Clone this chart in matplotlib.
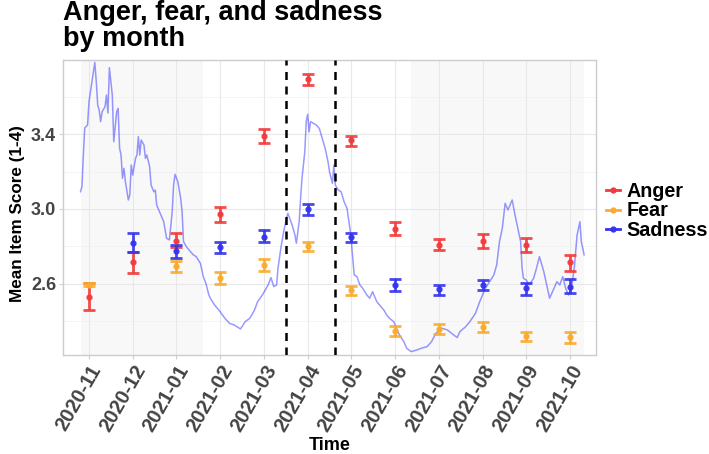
import numpy as np
import pandas as pd
import matplotlib
matplotlib.use("Agg")
import matplotlib.pyplot as plt
from matplotlib.lines import Line2D

plt.rcParams['font.family'] = ['Liberation Sans', 'DejaVu Sans']

# ---------------- data ----------------
months = ['2020-11', '2020-12', '2021-01', '2021-02', '2021-03', '2021-04',
          '2021-05', '2021-06', '2021-07', '2021-08', '2021-09', '2021-10']

anger_mean = [2.531, 2.717, 2.829, 2.973, 3.389, 3.693, 3.368, 2.893, 2.808, 2.829, 2.808, 2.717]
anger_lo   = [2.461, 2.659, 2.797, 2.931, 3.352, 3.661, 3.336, 2.861, 2.781, 2.792, 2.771, 2.669]
anger_hi   = [2.605, 2.771, 2.872, 3.011, 3.427, 3.720, 3.389, 2.931, 2.840, 2.867, 2.845, 2.755]

fear_mean = [2.597, np.nan, 2.696, 2.632, 2.701, 2.803, 2.568, 2.349, 2.360, 2.371, 2.323, 2.317]
fear_lo   = [2.589, np.nan, 2.664, 2.600, 2.669, 2.776, 2.541, 2.323, 2.333, 2.344, 2.296, 2.285]
fear_hi   = [2.605, np.nan, 2.723, 2.664, 2.733, 2.824, 2.589, 2.376, 2.387, 2.397, 2.344, 2.344]

sad_mean = [np.nan, 2.819, 2.776, 2.797, 2.851, 3.000, 2.851, 2.595, 2.573, 2.595, 2.579, 2.584]
sad_lo   = [np.nan, 2.771, 2.739, 2.765, 2.824, 2.968, 2.824, 2.563, 2.541, 2.568, 2.541, 2.552]
sad_hi   = [np.nan, 2.872, 2.808, 2.824, 2.888, 3.027, 2.872, 2.627, 2.595, 2.621, 2.605, 2.627]

line_dates = [
    '2020-10-26', '2020-10-27', '2020-10-28', '2020-10-29', '2020-10-31', '2020-11-01',
    '2020-11-03', '2020-11-05', '2020-11-06', '2020-11-07', '2020-11-08', '2020-11-09',
    '2020-11-10', '2020-11-12', '2020-11-13', '2020-11-14', '2020-11-15', '2020-11-16',
    '2020-11-17', '2020-11-18', '2020-11-20', '2020-11-21', '2020-11-22', '2020-11-23',
    '2020-11-24', '2020-11-25', '2020-11-26', '2020-11-28', '2020-11-29', '2020-11-30',
    '2020-12-01', '2020-12-03', '2020-12-04', '2020-12-05', '2020-12-06', '2020-12-07',
    '2020-12-09', '2020-12-10', '2020-12-11', '2020-12-13', '2020-12-14', '2020-12-16',
    '2020-12-17', '2020-12-18', '2020-12-20', '2020-12-23', '2020-12-25', '2020-12-27',
    '2020-12-29', '2020-12-30', '2020-12-31', '2021-01-02', '2021-01-04', '2021-01-05',
    '2021-01-06', '2021-01-08', '2021-01-11', '2021-01-13', '2021-01-15', '2021-01-18',
    '2021-01-20', '2021-01-22', '2021-01-24', '2021-01-25', '2021-01-28', '2021-02-01',
    '2021-02-04', '2021-02-07', '2021-02-10', '2021-02-14', '2021-02-17', '2021-02-20',
    '2021-02-23', '2021-02-25', '2021-02-28', '2021-03-02', '2021-03-04', '2021-03-06',
    '2021-03-08', '2021-03-10', '2021-03-11', '2021-03-13', '2021-03-15', '2021-03-17',
    '2021-03-18', '2021-03-21', '2021-03-23', '2021-03-24', '2021-03-26', '2021-03-27',
    '2021-03-28', '2021-03-30', '2021-03-31', '2021-04-01', '2021-04-02', '2021-04-03',
    '2021-04-05', '2021-04-07', '2021-04-09', '2021-04-11', '2021-04-13', '2021-04-15',
    '2021-04-16', '2021-04-18', '2021-04-19', '2021-04-20', '2021-04-22', '2021-04-24',
    '2021-04-26', '2021-04-28', '2021-04-30', '2021-05-01', '2021-05-03', '2021-05-05',
    '2021-05-07', '2021-05-09', '2021-05-12', '2021-05-14', '2021-05-16', '2021-05-19',
    '2021-05-21', '2021-05-24', '2021-05-26', '2021-05-28', '2021-05-31', '2021-06-02',
    '2021-06-04', '2021-06-07', '2021-06-09', '2021-06-12', '2021-06-16', '2021-06-19',
    '2021-06-23', '2021-06-26', '2021-06-29', '2021-07-03', '2021-07-07', '2021-07-10',
    '2021-07-14', '2021-07-16', '2021-07-20', '2021-07-23', '2021-07-27', '2021-07-30',
    '2021-08-03', '2021-08-06', '2021-08-09', '2021-08-11', '2021-08-13', '2021-08-15',
    '2021-08-17', '2021-08-19', '2021-08-22', '2021-08-24', '2021-08-26', '2021-08-28',
    '2021-08-29', '2021-08-30', '2021-09-01', '2021-09-03', '2021-09-06', '2021-09-08',
    '2021-09-10', '2021-09-13', '2021-09-15', '2021-09-17', '2021-09-20', '2021-09-22',
    '2021-09-24', '2021-09-26', '2021-09-28', '2021-09-30', '2021-10-02', '2021-10-04',
    '2021-10-06', '2021-10-08', '2021-10-09', '2021-10-10', '2021-10-11']
line_values = [
    3.092, 3.119, 3.288, 3.432, 3.448, 3.572,
    3.679, 3.782, 3.679, 3.555, 3.528, 3.466,
    3.519, 3.546, 3.608, 3.512, 3.754, 3.679,
    3.608, 3.359, 3.519, 3.537, 3.324, 3.288,
    3.164, 3.217, 3.146, 3.048, 3.075, 3.235,
    3.181, 3.270, 3.288, 3.386, 3.288, 3.368,
    3.341, 3.270, 3.288, 3.226, 3.128, 3.092,
    3.101, 3.021, 2.986, 2.932, 2.844, 2.835,
    2.986, 3.128, 3.185, 3.146, 3.057, 2.986,
    2.826, 2.799, 2.772, 2.755, 2.746, 2.710,
    2.640, 2.600, 2.541, 2.524, 2.488, 2.452,
    2.417, 2.390, 2.381, 2.360, 2.399, 2.417,
    2.461, 2.506, 2.541, 2.568, 2.595, 2.634,
    2.586, 2.595, 2.684, 2.790, 2.879, 2.950,
    2.977, 2.915, 2.861, 2.817, 2.932, 3.057,
    3.164, 3.306, 3.466, 3.505, 3.412, 3.466,
    3.457, 3.448, 3.430, 3.377, 3.324, 3.252,
    3.199, 3.137, 3.235, 3.128, 3.101, 3.092,
    3.039, 3.004, 2.897, 2.826, 2.648, 2.639,
    2.595, 2.577, 2.541, 2.524, 2.559, 2.506,
    2.488, 2.461, 2.435, 2.417, 2.399, 2.364,
    2.328, 2.292, 2.257, 2.239, 2.248, 2.257,
    2.266, 2.292, 2.337, 2.364, 2.355, 2.337,
    2.314, 2.346, 2.372, 2.399, 2.444, 2.506,
    2.577, 2.612, 2.648, 2.701, 2.826, 2.897,
    3.030, 2.995, 3.048, 2.968, 2.897, 2.826,
    2.684, 2.630, 2.621, 2.595, 2.630, 2.684,
    2.746, 2.666, 2.595, 2.524, 2.577, 2.612,
    2.595, 2.639, 2.577, 2.541, 2.577, 2.684,
    2.861, 2.932, 2.826, 2.790, 2.755]

event_dates = ['2021-03-17', '2021-04-20']
shade_ranges = [('2020-10-26', '2021-01-20'), ('2021-06-12', '2021-10-11')]

series_names = ['Anger', 'Fear', 'Sadness']
series_colors = ['#f23a3a', '#fbab2c', '#3434ee']


def mpos(s):
    t = pd.Timestamp(s)
    return (t.year - 2020) * 12 + t.month - 11 + (t.day - 1) / t.days_in_month


# ---------------- figure ----------------
fig = plt.figure(figsize=(7.09, 4.54), dpi=100)
ax = fig.add_axes([63 / 709, 1 - 355 / 454, (596 - 63) / 709, (355 - 60) / 454])

for a, b in shade_ranges:
    ax.axvspan(mpos(a), mpos(b), color='#f8f8f8', zorder=0, lw=0)

grid_c = '#e8e8e8'
xs = np.arange(len(months))
ax.set_xticks(xs)
ax.set_yticks([2.6, 3.0, 3.4])
ax.set_yticks([2.4, 2.8, 3.2, 3.6], minor=True)
ax.grid(True, which='major', color=grid_c, lw=0.8, zorder=0.5)
ax.grid(True, which='minor', axis='y', color='#f0f0f0', lw=0.5, zorder=0.5)
ax.set_axisbelow(True)

lx = [mpos(d) for d in line_dates]
ax.plot(lx, line_values, color='blue', alpha=0.4, lw=1.1, zorder=2)

for d in event_dates:
    ax.axvline(mpos(d), color='black', lw=1.8, ls=(0, (3.2, 2.6)), zorder=3)

all_m = [anger_mean, fear_mean, sad_mean]
all_lo = [anger_lo, fear_lo, sad_lo]
all_hi = [anger_hi, fear_hi, sad_hi]
for m, lo, hi, c in zip(all_m, all_lo, all_hi, series_colors):
    m = np.array(m, float); lo = np.array(lo, float); hi = np.array(hi, float)
    ax.errorbar(xs, m, yerr=[m - lo, hi - m], fmt='o', color=c, ecolor=c,
                ms=3.5, elinewidth=2.0, capsize=4.5, capthick=2.0,
                alpha=0.9, zorder=4)

ax.set_xlim(-0.594, 11.594)
ax.set_ylim(2.221, 3.795)

ax.set_xticklabels(months, rotation=60, ha='right', va='top', rotation_mode='anchor',
                   fontsize=14.5, fontweight='bold', color='#444444')
ax.set_yticklabels(['2.6', '3.0', '3.4'], fontsize=13, fontweight='bold', color='#444444')
ax.tick_params(axis='both', which='major', length=3, color='#cfcfcf', width=0.8, pad=2)
ax.tick_params(axis='y', which='minor', length=0)
for sp in ax.spines.values():
    sp.set_color('#cccccc')
    sp.set_linewidth(1.0)

ax.set_xlabel('Time', fontsize=13, fontweight='bold', labelpad=1)
ax.set_ylabel('Mean Item Score (1-4)', fontsize=12.3, fontweight='bold', labelpad=5)
ax.yaxis.set_label_coords(-0.072, 0.48)

fig.text(63 / 709, 1 - 0 / 454, 'Anger, fear, and sadness\nby month', ha='left', va='top',
         fontsize=19.5, fontweight='bold', linespacing=0.98)

handles = [Line2D([0], [0], color=c, lw=2, marker='o', ms=3.5) for c in series_colors]
leg = fig.legend(handles, series_names, loc='center left',
                 bbox_to_anchor=(606 / 709, 1 - 211 / 454), frameon=False,
                 handlelength=0.7, handletextpad=0.35, labelspacing=0.02,
                 prop={'weight': 'bold', 'size': 14.2}, borderaxespad=0, borderpad=0)

fig.savefig('out.png', dpi=100)
